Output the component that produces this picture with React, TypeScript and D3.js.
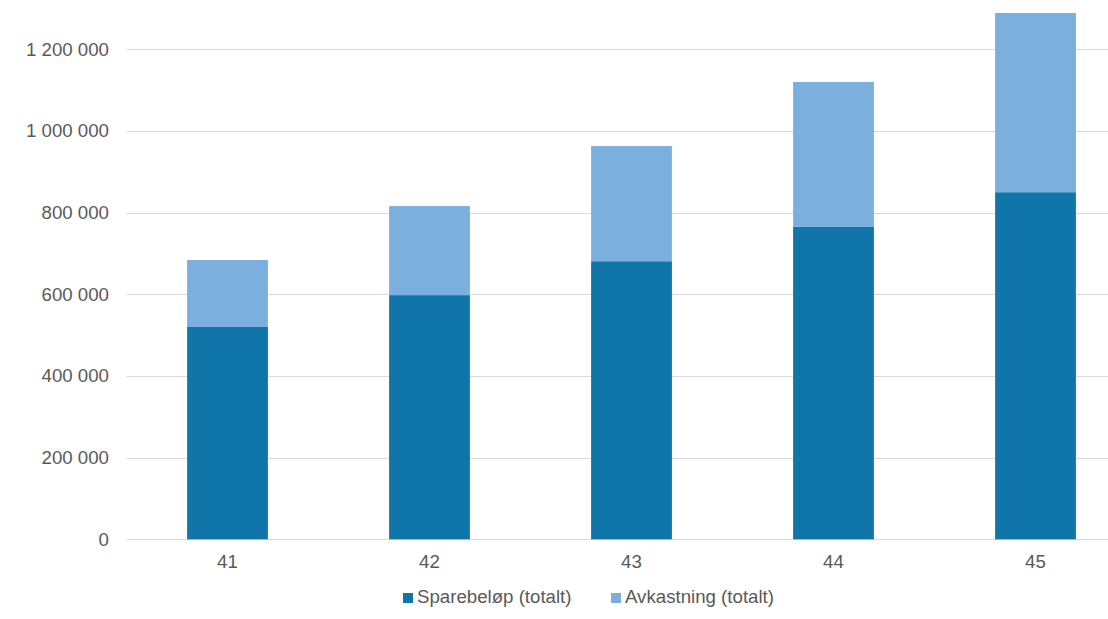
import React from "react";
import * as d3 from "d3";

const categories = ["41", "42", "43", "44", "45"];
const sparebelop = [520000, 598000, 681000, 765000, 850000];
const avkastning = [164000, 218000, 282000, 355000, 439000];
const yTicks = [0, 200000, 400000, 600000, 800000, 1000000, 1200000];
const seriesNames = ["Sparebeløp (totalt)", "Avkastning (totalt)"];
const colors = ["#1076AA", "#7BAFDE"];

const W = 1108;
const H = 619;
const FONT = "'Liberation Sans', Arial, sans-serif";

export default function App() {
  const x = d3.scaleBand<string>().domain(categories).range([126.5, 1136.5]).paddingInner(0.6).paddingOuter(0.3);
  const y = d3.scaleLinear().domain([0, 1200000]).range([539.3, 49.3]);
  const fmt = (v: number) => d3.format(",")(v).replace(/,/g, " ");

  const stackData = categories.map((c, i) => ({ cat: c, s: sparebelop[i], a: avkastning[i] }));
  const stack = d3.stack<any>().keys(["s", "a"])(stackData);

  return (
    <svg width={W} height={H} style={{ position: "absolute", left: 0, top: 0, background: "#fff" }}>
      {yTicks.map((t) => (
        <g key={t}>
          <line x1={126.5} x2={W} y1={Math.round(y(t)) + 0.5} y2={Math.round(y(t)) + 0.5} stroke="#D9D9D9" strokeWidth={1} />
          <text x={109} y={y(t) + 6.5} textAnchor="end" fontFamily={FONT} fontSize={18.67} fill="#595959">
            {fmt(t)}
          </text>
        </g>
      ))}
      {stack.map((layer, li) => (
        <g key={li} fill={colors[li]}>
          {layer.map((d: any, i: number) => (
            <rect key={i} x={x(categories[i])} width={x.bandwidth()} y={y(d[1])} height={y(d[0]) - y(d[1])} />
          ))}
        </g>
      ))}
      {categories.map((c) => (
        <text key={c} x={(x(c) as number) + x.bandwidth() / 2} y={568} textAnchor="middle" fontFamily={FONT} fontSize={18.67} fill="#595959">
          {c}
        </text>
      ))}
      {seriesNames.map((n, i) => {
        const lx = i === 0 ? 403 : 611;
        return (
          <g key={n}>
            <rect x={lx} y={593} width={10} height={10} fill={colors[i]} />
            <text x={lx + 14} y={603} fontFamily={FONT} fontSize={18.67} fill="#595959">
              {n}
            </text>
          </g>
        );
      })}
    </svg>
  );
}
